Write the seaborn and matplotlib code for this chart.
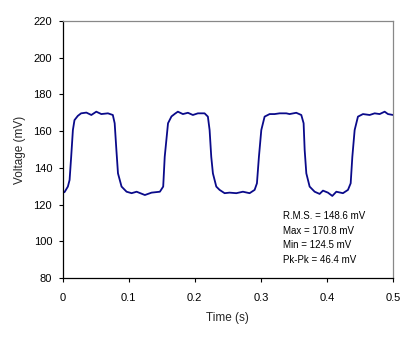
import matplotlib
matplotlib.use("Agg")
import matplotlib.pyplot as plt
import seaborn as sns

# waveform: time (s) and voltage (mV)
time_s = [0.0, 0.003, 0.008, 0.0106, 0.013, 0.0156, 0.018, 0.023, 0.028, 0.036,
          0.0435, 0.051, 0.0586, 0.0686, 0.076, 0.0788, 0.0814, 0.0838, 0.0892, 0.0968,
          0.1044, 0.112, 0.1245, 0.1346, 0.1472, 0.1522, 0.1545, 0.1595, 0.1647, 0.170,
          0.1744, 0.182, 0.1896, 0.1971, 0.2047, 0.2148, 0.2198, 0.2224, 0.2249, 0.2274,
          0.2325, 0.2375, 0.2451, 0.2526, 0.2628, 0.2728, 0.2829, 0.2905, 0.294, 0.297,
          0.3006, 0.3056, 0.3132, 0.3207, 0.3283, 0.3384, 0.3434, 0.3535, 0.3611, 0.3646,
          0.3662, 0.3687, 0.3737, 0.3813, 0.3888, 0.3939, 0.4014, 0.408, 0.4141, 0.4241,
          0.4317, 0.4358, 0.4383, 0.4418, 0.4468, 0.4544, 0.4645, 0.4721, 0.4796, 0.4872,
          0.4922, 0.5]
voltage_mv = [126.5, 126.8, 129.8, 133.4, 146.0, 160.6, 166.0, 168.3, 169.7, 170.1,
              168.8, 170.6, 169.3, 169.7, 168.8, 164.3, 149.7, 137.0, 129.8, 127.0,
              126.2, 127.0, 125.2, 126.5, 127.0, 129.8, 146.0, 164.3, 168.0, 169.5,
              170.6, 169.3, 170.0, 168.8, 169.7, 169.7, 167.9, 160.6, 146.0, 137.0,
              129.8, 128.0, 126.2, 126.5, 126.2, 127.0, 126.2, 128.0, 131.6, 146.0,
              160.6, 167.9, 169.3, 169.3, 169.7, 169.7, 169.3, 170.0, 168.8, 164.3,
              149.7, 137.0, 129.8, 127.0, 125.8, 127.6, 126.5, 124.7, 127.0, 126.2,
              128.0, 131.6, 146.0, 160.6, 167.9, 169.3, 168.8, 169.7, 169.3, 170.6,
              169.3, 168.8]

stats_lines = ["R.M.S. = 148.6 mV", "Max = 170.8 mV", "Min = 124.5 mV", "Pk-Pk = 46.4 mV"]

sns.set_style("white")
plt.rcParams['font.family'] = ['Liberation Sans', 'DejaVu Sans']

fig = plt.figure(figsize=(4.2, 3.43), dpi=100)
ax = fig.add_axes([0.149, 0.1895, 0.787, 0.7493])

sns.lineplot(x=time_s, y=voltage_mv, ax=ax, color='#0a0a8a', linewidth=1.3)

ax.set_xlim(0, 0.5)
ax.set_ylim(80, 220)
ax.set_xticks([0, 0.1, 0.2, 0.3, 0.4, 0.5])
ax.set_xticklabels(['0', '0.1', '0.2', '0.3', '0.4', '0.5'])
ax.set_yticks(range(80, 221, 20))
ax.tick_params(axis='both', direction='out', length=3, width=0.8,
               labelsize=8, color='black', labelcolor='black')
ax.tick_params(axis='x', bottom=True, pad=7.5)
ax.tick_params(axis='y', left=True, pad=4.5)

for side in ['left', 'bottom']:
    ax.spines[side].set_color('black')
    ax.spines[side].set_linewidth(0.9)
for side in ['top', 'right']:
    ax.spines[side].set_color('#888888')
    ax.spines[side].set_linewidth(0.9)

ax.set_xlabel('Time (s)', fontsize=8.5, labelpad=7)
ax.set_ylabel('Voltage (mV)', fontsize=8.5, labelpad=5.5)

for i, line in enumerate(stats_lines):
    ax.text(0.333, 113.8 - 8 * i, line, fontsize=7, va='center', ha='left', color='black')

fig.savefig('out.png', dpi=100)
